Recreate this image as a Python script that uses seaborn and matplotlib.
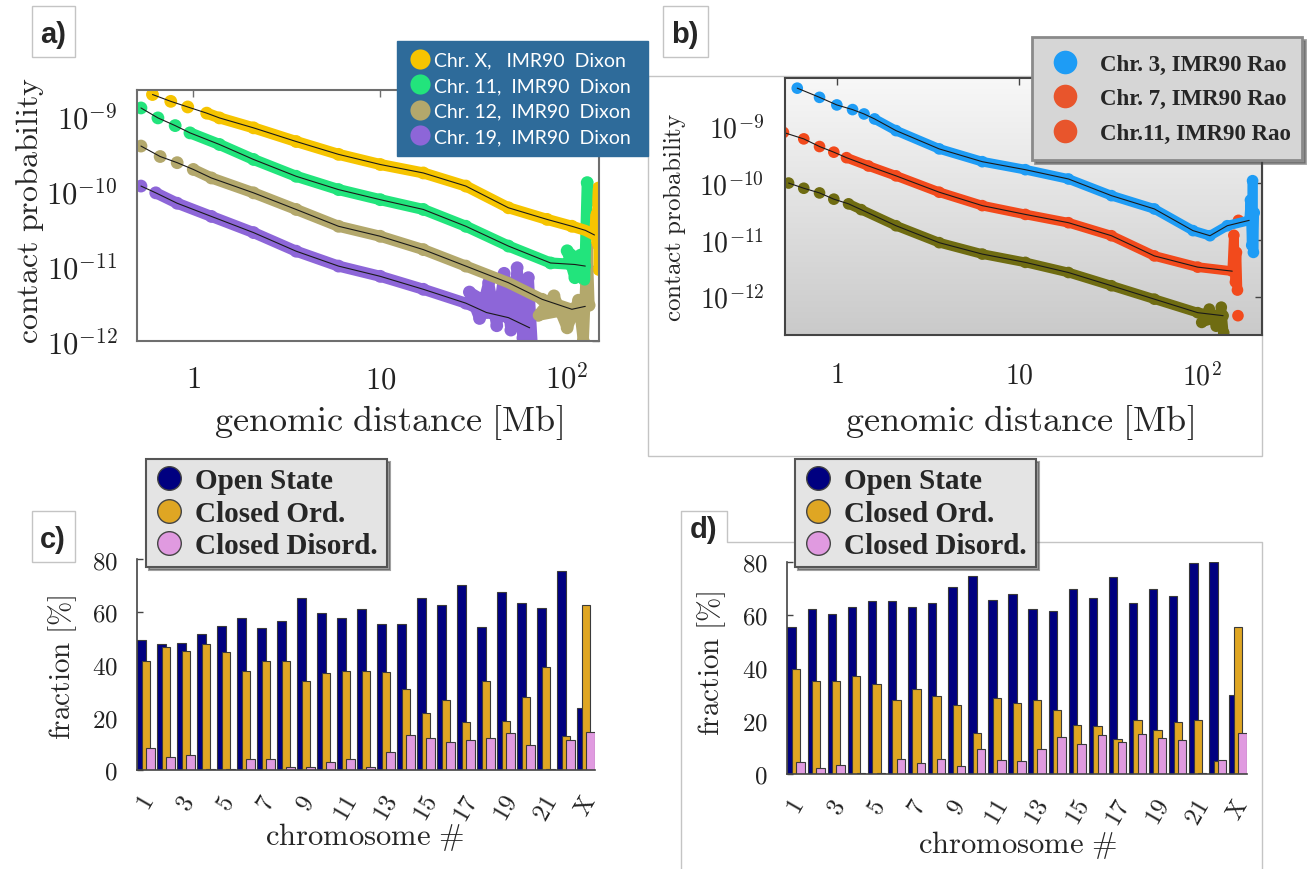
import numpy as np
import pandas as pd
import matplotlib
matplotlib.use("Agg")
import matplotlib.pyplot as plt
import seaborn as sns
from matplotlib.lines import Line2D
from matplotlib.patches import Rectangle
from matplotlib.colors import LinearSegmentedColormap
from matplotlib.transforms import ScaledTranslation

W, H = 1311, 870

# ---------------- panel a data (Dixon) ----------------
A_LABELS = ["Chr. X,   IMR90  Dixon", "Chr. 11,  IMR90  Dixon",
            "Chr. 12,  IMR90  Dixon", "Chr. 19,  IMR90  Dixon"]
A_COLORS = ["#f6c400", "#22e47c", "#b3a86c", "#8d66d8"]

A_X_X = [0.605, 0.758, 0.934, 1.18, 1.38, 2.1, 3.55, 5.98, 10, 17, 28.7, 48.5, 78, 106, 125, 140]
A_X_Y = [1.95e-9, 1.58e-9, 1.33e-9, 1.1e-9, 9.5e-10, 7e-10, 4.6e-10, 3.1e-10, 2.27e-10,
         1.75e-10, 1.17e-10, 6e-11, 4.2e-11, 3.4e-11, 3.0e-11, 2.6e-11]
A_X_TX = [143, 145, 146, 147, 148]
A_X_TY = [5e-11, 2e-11, 8e-11, 1.1e-10, 9e-12]

A_11_X = [0.525, 0.647, 0.8, 0.96, 1.38, 2.1, 3.55, 5.98, 10, 17, 28.7, 48.5, 81.5, 110, 125]
A_11_Y = [1.29e-9, 9.5e-10, 7.5e-10, 6e-10, 4.2e-10, 2.65e-10, 1.58e-10, 1.05e-10, 7.7e-11,
          5.7e-11, 3.4e-11, 1.85e-11, 1.1e-11, 1.05e-11, 1.0e-11]
A_11_TX = [100, 110, 118, 124, 128, 131]
A_11_TY = [1.6e-11, 7e-12, 1.4e-11, 6.5e-12, 1.3e-10, 7.4e-11]

A_12_X = [0.525, 0.665, 0.82, 1.0, 1.25, 2.1, 3.55, 5.98, 10, 17, 28.7, 48.5, 73.5, 106, 125]
A_12_Y = [4e-10, 2.9e-10, 2.4e-10, 1.95e-10, 1.5e-10, 9.5e-11, 5.7e-11, 3.4e-11, 2.5e-11,
          1.66e-11, 1e-11, 6e-12, 3.6e-12, 2.65e-12, 2.9e-12]
A_12_TX = [70, 85, 100, 115, 122, 128, 131]
A_12_TY = [2.2e-12, 4e-12, 1.5e-12, 3.5e-12, 1.0e-12, 1.8e-11, 3e-12]

A_19_X = [0.525, 0.63, 0.82, 1.25, 2.1, 3.55, 5.98, 10, 17, 28.7, 37, 48.5, 63]
A_19_Y = [1.17e-10, 9.5e-11, 6.9e-11, 4.6e-11, 2.8e-11, 1.58e-11, 1e-11, 7.3e-12, 4.9e-12,
          3.2e-12, 2.4e-12, 2.05e-12, 1.5e-12]
A_19_TX = [30, 34, 38, 42, 46, 50, 54, 58, 62, 65]
A_19_TY = [4.5e-12, 2e-12, 6e-12, 1.6e-12, 8e-12, 1.4e-12, 9.5e-12, 1.1e-12, 7e-12, 9e-13]

A_XTICKS = [1, 10, 100]
A_XTICKLABELS = [r"$1$", r"$10$", r"$10^2$"]
A_YTICKS = [1e-12, 1e-11, 1e-10, 1e-9]
A_YTICKLABELS = [r"$10^{-12}$", r"$10^{-11}$", r"$10^{-10}$", r"$10^{-9}$"]

# ---------------- panel b data (Rao) ----------------
B_LABELS = ["Chr. 3, IMR90 Rao", "Chr. 7, IMR90 Rao", "Chr.11, IMR90 Rao"]
B_LEG_COLORS = ["#1e9cf5", "#e8552c", "#e8552c"]
B_COLORS = ["#1e9cf5", "#f24a1c", "#6f6c12"]

B_3_X = [0.607, 0.804, 1.0, 1.22, 1.41, 1.61, 2.11, 3.64, 6.27, 10.8, 18.6, 32, 55, 89.6, 111, 138, 182]
B_3_Y = [4.7e-9, 3.24e-9, 2.38e-9, 1.97e-9, 1.65e-9, 1.35e-9, 8.4e-10, 4e-10, 2.38e-10,
         1.72e-10, 1.18e-10, 6e-11, 3.5e-11, 1.45e-11, 1.18e-11, 1.77e-11, 2.2e-11]
B_3_TX = [185, 188, 190, 192, 194]
B_3_TY = [5e-11, 8e-12, 1.1e-10, 6e-12, 3e-11]

B_7_X = [0.51, 0.659, 0.804, 0.963, 1.13, 1.49, 2.11, 3.64, 6.27, 10.8, 18.6, 32, 55, 95, 147]
B_7_Y = [7.8e-10, 6e-10, 4.4e-10, 3.5e-10, 2.8e-10, 2e-10, 1.34e-10, 6.9e-11, 4e-11,
         2.8e-11, 2e-11, 1.18e-11, 5.2e-12, 3.3e-12, 2.8e-12]
B_7_TX = [150, 153, 155, 157]
B_7_TY = [1.2e-11, 1.8e-12, 6e-12, 1.3e-12]
B_7_OUT_X = [159, 158]
B_7_OUT_Y = [2.2e-11, 4.6e-13]

B_11_X = [0.544, 0.659, 0.804, 0.963, 1.16, 1.36, 2.11, 3.64, 6.27, 10.8, 18.6, 32, 55, 95, 131]
B_11_Y = [1e-10, 8.1e-11, 6.7e-11, 5.2e-11, 4.3e-11, 3.4e-11, 1.77e-11, 8.9e-12, 5.6e-12,
          4e-12, 2.65e-12, 1.55e-12, 9e-13, 5.2e-13, 4.6e-13]
B_11_TX = [100, 110, 120, 128, 132]
B_11_TY = [3.5e-13, 6e-13, 3e-13, 6.5e-13, 2.3e-13]

B_XTICKS = [1, 10, 100]
B_XTICKLABELS = [r"$1$", r"$10$", r"$10^2$"]
B_YTICKS = [1e-12, 1e-11, 1e-10, 1e-9]
B_YTICKLABELS = [r"$10^{-12}$", r"$10^{-11}$", r"$10^{-10}$", r"$10^{-9}$"]

# ---------------- panels c / d data ----------------
CHROMS = [str(i) for i in range(1, 23)] + ["X"]
STATES = ["Open State", "Closed Ord.", "Closed Disord."]
BAR_COLORS = ["#000080", "#dfa623", "#e09ae0"]

C_OPEN = [49.3, 47.9, 48.3, 51.4, 54.6, 57.5, 54.0, 56.5, 65.1, 59.7, 57.5, 61.2,
          55.5, 55.5, 65.4, 62.5, 70.1, 54.1, 67.6, 63.2, 61.4, 75.6, 23.4]
C_ORD = [41.5, 46.7, 45.1, 47.9, 44.8, 37.7, 41.3, 41.5, 33.7, 36.8, 37.7, 37.7,
         37.2, 30.9, 21.6, 26.4, 18.2, 33.9, 18.5, 27.6, 38.9, 13.0, 62.6]
C_DIS = [8.3, 4.8, 5.7, 0.3, 0.3, 4.1, 4.1, 1.3, 1.0, 3.2, 4.2, 1.0,
         6.7, 13.1, 12.3, 10.8, 11.4, 12.0, 13.9, 9.6, 0.3, 11.5, 14.3]

D_OPEN = [55.4, 62.1, 60.4, 62.9, 65.4, 65.4, 62.9, 64.4, 70.4, 74.9, 65.6, 67.9,
          62.1, 61.5, 69.9, 66.5, 74.4, 64.4, 70.0, 67.0, 79.8, 80.0, 29.8]
D_ORD = [39.8, 35.0, 35.0, 36.9, 34.1, 28.1, 32.1, 29.4, 25.9, 15.3, 28.8, 26.9,
         28.1, 24.1, 18.4, 18.1, 13.1, 20.3, 16.7, 19.8, 20.5, 4.8, 55.3]
D_DIS = [4.4, 2.3, 3.5, 0.3, 0.3, 5.6, 4.0, 5.6, 3.1, 9.4, 5.4, 4.8,
         9.4, 13.8, 11.3, 14.6, 11.9, 15.0, 13.4, 12.8, 0.2, 5.4, 15.5]

BAR_YTICKS = [0, 20, 40, 60, 80]
BAR_YTICKLABELS = [r"$0$", r"$20$", r"$40$", r"$60$", r"$80$"]

# ---------------- style ----------------
sns.set_theme(style="white")
plt.rcParams["font.family"] = ["DejaVu Serif", "DejaVu Sans"]
plt.rcParams["mathtext.fontset"] = "cm"

fig = plt.figure(figsize=(W / 100, H / 100), dpi=100)
fig.patch.set_facecolor("white")


def rect(l, t, r, b):
    return [l / W, 1 - b / H, (r - l) / W, (b - t) / H]


def bbox(l, t, r, b):
    return (l / W, 1 - b / H, (r - l) / W, (b - t) / H)


def fbox(l, t, r, b, ec="#c4c4c4", lw=1.0):
    fig.add_artist(Rectangle((l / W, 1 - b / H), (r - l) / W, (b - t) / H,
                             transform=fig.transFigure, fill=False, ec=ec, lw=lw, zorder=0.5))


# frames and panel labels
fbox(648, 77, 1262, 457)
fig.add_artist(Line2D([681 / W, 681 / W, 727 / W, 727 / W, 1262 / W, 1262 / W],
                      [0, 1 - 512 / H, 1 - 512 / H, 1 - 543 / H, 1 - 543 / H, 0],
                      transform=fig.transFigure, color="#c4c4c4", lw=1.0, zorder=0.5))
fbox(32, 7, 75, 58)
fbox(663, 7, 708, 58)
fbox(32, 512, 75, 563)
lab_kw = dict(ha="center", va="center", fontsize=21, fontweight="bold", family="Liberation Sans")
fig.text(53 / W, 1 - 35 / H, "a)", **lab_kw)
fig.text(685 / W, 1 - 35 / H, "b)", **lab_kw)
fig.text(53 / W, 1 - 540 / H, "c)", **lab_kw)
fig.text(704 / W, 1 - 530 / H, "d)", **lab_kw)


def draw_curve(ax, xs, ys, txs, tys, color, lw, s, k):
    full = pd.DataFrame({"d": list(xs) + list(txs), "p": list(ys) + list(tys)})
    main = pd.DataFrame({"d": xs, "p": ys})
    band = full.iloc[k:]
    sns.lineplot(data=band, x="d", y="p", sort=False, estimator=None, color=color,
                 lw=lw, ax=ax, legend=False, solid_capstyle="round", solid_joinstyle="round")
    sns.scatterplot(data=full, x="d", y="p", color=color, s=s, edgecolor="none", ax=ax, legend=False)
    sns.lineplot(data=main, x="d", y="p", sort=False, estimator=None, color="#1a1a1a",
                 lw=0.8, ax=ax, legend=False)


def style_log(ax, xt, xtl, yt, ytl, xlim, ylim, tsize, xpad, ypad, spc):
    ax.set_xscale("log")
    ax.set_yscale("log")
    ax.set_xlim(*xlim)
    ax.set_ylim(*ylim)
    ax.set_xticks(xt)
    ax.set_xticklabels(xtl)
    ax.set_yticks(yt)
    ax.set_yticklabels(ytl)
    ax.set_xticks([], minor=True)
    ax.set_yticks([], minor=True)
    ax.tick_params(axis="both", direction="in", length=5, width=1, top=True, right=True,
                   labelsize=tsize, colors=spc, labelcolor="#222222")
    ax.tick_params(axis="x", pad=xpad)
    ax.tick_params(axis="y", pad=ypad)
    for sp in ax.spines.values():
        sp.set_visible(True)
        sp.set_color(spc)
        sp.set_linewidth(1.5)


# ---------------- panel a ----------------
ax_a = fig.add_axes(rect(137, 91, 599, 342))
ax_a.set_xscale("log")
ax_a.set_yscale("log")
series_a = [(A_19_X, A_19_Y, A_19_TX, A_19_TY, A_COLORS[3], 1),
            (A_12_X, A_12_Y, A_12_TX, A_12_TY, A_COLORS[2], 3),
            (A_11_X, A_11_Y, A_11_TX, A_11_TY, A_COLORS[1], 3),
            (A_X_X, A_X_Y, A_X_TX, A_X_TY, A_COLORS[0], 3)]
for xs, ys, tx, ty, col, k in series_a:
    draw_curve(ax_a, xs, ys, tx, ty, col, 8, 85, k)
style_log(ax_a, A_XTICKS, A_XTICKLABELS, A_YTICKS, A_YTICKLABELS, (0.5, 148), (1e-12, 2.24e-9),
          22, 16, 14, "#6e6e6e")
ax_a.set_xlabel(r"$\mathrm{genomic\ distance\ [Mb]}$", fontsize=26, va="center")
ax_a.xaxis.set_label_coords((388 - 137) / 462, (342 - 422) / 251)
ax_a.set_ylabel(r"$\mathrm{contact\ probability}$", fontsize=23, va="center")
ax_a.yaxis.set_label_coords((30 - 137) / 462, (342 - 210) / 251)

handles_a = [Line2D([], [], ls="", marker="o", ms=14.5, mfc=c, mec="none") for c in A_COLORS]
leg_a = fig.legend(handles_a, A_LABELS, loc="upper left",
                   bbox_to_anchor=bbox(397, 42, 648, 158),
                   mode="expand", prop={"family": "Lato", "size": 14}, labelcolor="white",
                   frameon=True, facecolor="#2e6b9a", edgecolor="#2e6b9a", framealpha=1,
                   fancybox=False, borderpad=0.54, labelspacing=0.44, handlelength=1.3,
                   handletextpad=0.05, borderaxespad=0)

# ---------------- panel b ----------------
b_rect = rect(785, 79, 1262, 336)
ax_bg = fig.add_axes(b_rect)
grad = np.linspace(0, 1, 256).reshape(-1, 1)
ax_bg.imshow(grad, extent=[0, 1, 0, 1], origin="lower", aspect="auto",
             cmap=LinearSegmentedColormap.from_list("g", ["#cacaca", "#f8f8f8"]))
ax_bg.set_axis_off()
ax_bg.set_zorder(0)
ax_b = fig.add_axes(b_rect)
ax_b.set_zorder(1)
ax_b.patch.set_alpha(0)
ax_b.set_xscale("log")
ax_b.set_yscale("log")
series_b = [(B_11_X, B_11_Y, B_11_TX, B_11_TY, B_COLORS[2], 4),
            (B_7_X, B_7_Y, B_7_TX, B_7_TY, B_COLORS[1], 4),
            (B_3_X, B_3_Y, B_3_TX, B_3_TY, B_COLORS[0], 5)]
for xs, ys, tx, ty, col, k in series_b:
    draw_curve(ax_b, xs, ys, tx, ty, col, 7, 70, k)
sns.scatterplot(x=B_7_OUT_X, y=B_7_OUT_Y, color=B_COLORS[1], s=70, edgecolor="none", ax=ax_b, legend=False)
style_log(ax_b, B_XTICKS, B_XTICKLABELS, B_YTICKS, B_YTICKLABELS, (0.52, 214), (2.1e-13, 7.1e-9),
          20, 19, 15, "#444444")
ax_b.set_xlabel(r"$\mathrm{genomic\ distance\ [Mb]}$", fontsize=26, va="center")
ax_b.xaxis.set_label_coords((1019 - 785) / 477, (336 - 422) / 257)
ax_b.set_ylabel(r"$\mathrm{contact\ probability}$", fontsize=18, va="center")
ax_b.yaxis.set_label_coords((674 - 785) / 477, (336 - 217) / 257)

handles_b = [Line2D([], [], ls="", marker="o", ms=17, mfc=c, mec="none") for c in B_LEG_COLORS]
leg_b = fig.legend(handles_b, B_LABELS, loc="upper left",
                   bbox_to_anchor=bbox(1032, 38, 1302, 160),
                   mode="expand", prop={"family": "Liberation Serif", "weight": "bold", "size": 16.5},
                   frameon=True, facecolor="#d6d6d6", edgecolor="#8a8a8a", framealpha=1,
                   fancybox=False, borderpad=0.72, labelspacing=0.59, handlelength=1.4,
                   handletextpad=0.85, borderaxespad=0, shadow=True)
leg_b.get_frame().set_linewidth(2)


# ---------------- panels c / d ----------------
def bar_panel(ax, opn, ordd, dis):
    df = pd.DataFrame({"chrom": CHROMS * 3,
                       "state": [STATES[0]] * 23 + [STATES[1]] * 23 + [STATES[2]] * 23,
                       "value": list(opn) + list(ordd) + list(dis)})
    sns.barplot(data=df, x="chrom", y="value", hue="state", hue_order=STATES, order=CHROMS,
                palette=BAR_COLORS, saturation=1, width=0.66, edgecolor="#3a3a3a",
                linewidth=0.8, ax=ax, legend=False)
    for p in ax.patches:
        w = p.get_width()
        cx = p.get_x() + w / 2
        nw = w * 1.9
        p.set_x(cx - nw / 2)
        p.set_width(nw)
    ax.set_xlim(-0.45, 22.45)
    ax.set_ylim(0, 80)
    ax.set_yticks(BAR_YTICKS)
    ax.set_yticklabels(BAR_YTICKLABELS)
    ax.set_xticks(range(0, 23, 2))
    ax.set_xticklabels([r"$\mathrm{%s}$" % c for c in CHROMS[::2]], rotation=60, ha="center")
    for lab in ax.get_xticklabels():
        lab.set_transform(lab.get_transform() + ScaledTranslation(5 / 72, 0, fig.dpi_scale_trans))
    ax.tick_params(axis="y", direction="in", length=4, width=1, pad=14, labelsize=18,
                   colors="#444444", labelcolor="#222222", left=True)
    ax.tick_params(axis="x", length=0, pad=15, labelsize=18, labelcolor="#222222")
    for k in ["top", "right"]:
        ax.spines[k].set_visible(False)
    for k in ["left", "bottom"]:
        ax.spines[k].set_visible(True)
        ax.spines[k].set_color("#444444")
        ax.spines[k].set_linewidth(1.2)
    ax.set_facecolor("none")
    ax.set_xlabel(r"$\mathrm{chromosome\ \#}$", fontsize=22, va="center")
    ax.set_ylabel(r"$\mathrm{fraction\ [\%]}$", fontsize=21, va="center")


def bar_legend(x0):
    hs = [Line2D([], [], ls="", marker="o", ms=17, mfc=c, mec="#444444", mew=1) for c in BAR_COLORS]
    lg = fig.legend(hs, STATES, loc="upper left",
                    bbox_to_anchor=bbox(x0, 460, x0 + 241, 569), mode="expand",
                    prop={"family": "Liberation Serif", "weight": "bold", "size": 21},
                    frameon=True, facecolor="#e4e4e4", edgecolor="#555555", framealpha=1,
                    fancybox=False, borderpad=0.29, labelspacing=0.18, handlelength=1.0,
                    handletextpad=0.4, borderaxespad=0, shadow=True)
    lg.get_frame().set_linewidth(1.5)
    return lg


ax_c = fig.add_axes(rect(137, 560, 595, 771))
bar_panel(ax_c, C_OPEN, C_ORD, C_DIS)
ax_c.xaxis.set_label_coords(0.498, (771 - 837) / 211)
ax_c.yaxis.set_label_coords((63 - 137) / 458, (771 - 667) / 211)
bar_legend(146)

ax_d = fig.add_axes(rect(787, 563, 1247, 775))
bar_panel(ax_d, D_OPEN, D_ORD, D_DIS)
ax_d.xaxis.set_label_coords(0.502, (775 - 845) / 212)
ax_d.yaxis.set_label_coords((712 - 787) / 460, (775 - 663) / 212)
bar_legend(795)

fig.savefig("out.png", dpi=100, facecolor="white")
